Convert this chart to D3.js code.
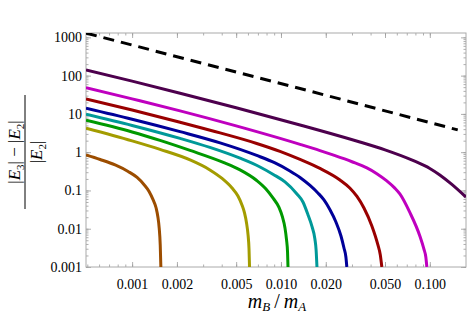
<!DOCTYPE html>
<html>
<head>
<meta charset="utf-8">
<script src="https://cdn.jsdelivr.net/npm/d3@7"></script>
<style>
  body { margin: 0; background: #fff; }
  svg text { font-family: "Liberation Serif", "DejaVu Serif", serif; fill: #000; }
</style>
</head>
<body>
<div id="chart"></div>
<script>
// tick labels
const xTicks = [0.001, 0.002, 0.005, 0.01, 0.02, 0.05, 0.1];
const xTickLabels = ["0.001", "0.002", "0.005", "0.010", "0.020", "0.050", "0.100"];
const yTicks = [0.001, 0.01, 0.1, 1, 10, 100, 1000];
const yTickLabels = ["0.001", "0.01", "0.1", "1", "10", "100", "1000"];

// curves: [m_B/m_A, ratio]
const darkPurple = [[0.00049, 141], [0.001, 72], [0.0021, 34.8], [0.005, 14.5], [0.01343, 5.15], [0.01828, 3.70],
  [0.0339, 1.85], [0.05, 1.15], [0.0769, 0.61], [0.1, 0.376], [0.1167, 0.254], [0.1406, 0.144], [0.175, 0.067]];
const magenta = [[0.00049, 48.7], [0.001, 24.7], [0.0021, 12.0], [0.005, 4.86], [0.01343, 1.60], [0.01828, 1.10],
  [0.02233, 0.848], [0.03, 0.562], [0.03776, 0.387], [0.04406, 0.274], [0.0514, 0.177], [0.0582, 0.115],
  [0.0629, 0.081], [0.0734, 0.0266], [0.0857, 0.00645], [0.0912, 0.00296], [0.094, 0.00182], [0.0955, 0.001]];
const darkRed = [[0.00049, 24.7], [0.001, 12.7], [0.0021, 6.07], [0.0039, 3.19], [0.00687, 1.69], [0.00985, 1.05],
  [0.01343, 0.645], [0.01828, 0.376], [0.0249, 0.188], [0.029, 0.116], [0.0324, 0.0697], [0.0361, 0.0348],
  [0.0408, 0.0118], [0.0448, 0.00376], [0.0465, 0.00206], [0.0476, 0.001]];
const navy = [[0.00049, 14.1], [0.001, 7.27], [0.0021, 3.44], [0.0039, 1.75], [0.00687, 0.822], [0.00912, 0.524],
  [0.01148, 0.324], [0.01343, 0.219], [0.01567, 0.135], [0.0177, 0.0861], [0.01945, 0.0565], [0.0213, 0.0318],
  [0.0234, 0.015], [0.0253, 0.00645], [0.0265, 0.00314], [0.0273, 0.00182], [0.0277, 0.001]];
const teal = [[0.00049, 9.82], [0.001, 5.0], [0.0021, 2.29], [0.00333, 1.33], [0.00531, 0.695], [0.00723, 0.411],
  [0.00888, 0.262], [0.01064, 0.167], [0.0128, 0.081], [0.01405, 0.05], [0.0152, 0.0229], [0.01615, 0.0115],
  [0.0169, 0.0054], [0.01722, 0.00278], [0.01745, 0.001]];
const green = [[0.00049, 6.84], [0.001, 3.38], [0.00154, 2.03], [0.00245, 1.11], [0.0041, 0.54], [0.00531, 0.344],
  [0.00687, 0.182], [0.00793, 0.109], [0.00888, 0.0618], [0.0097, 0.036], [0.01023, 0.0203], [0.01064, 0.0105],
  [0.0109, 0.0051], [0.01107, 0.00247], [0.01115, 0.001]];
const olive = [[0.00049, 4.23], [0.001, 1.97], [0.00154, 1.18], [0.00245, 0.627], [0.00333, 0.344], [0.00402, 0.206],
  [0.00469, 0.116], [0.00514, 0.0718], [0.00547, 0.0418], [0.00569, 0.0258], [0.00587, 0.0141], [0.00601, 0.00687],
  [0.0061, 0.00296], [0.00615, 0.001]];
const brown = [[0.00049, 0.848], [0.00061, 0.645], [0.000769, 0.465], [0.00094, 0.314], [0.00108, 0.219],
  [0.0012, 0.1435], [0.0013, 0.0942], [0.00138, 0.0582], [0.00145, 0.0348], [0.00149, 0.0203], [0.00152, 0.0105],
  [0.001545, 0.00376], [0.00156, 0.001]];
const dashedLine = [[0.00049, 1290], [0.01343, 46], [0.154, 3.82]];

const curves = [
  { data: darkPurple, color: "#4d004d" },
  { data: magenta, color: "#bf00bf" },
  { data: darkRed, color: "#990000" },
  { data: navy, color: "#000099" },
  { data: teal, color: "#009999" },
  { data: green, color: "#009900" },
  { data: olive, color: "#a39c00" },
  { data: brown, color: "#9c4d00" }
];

const W = 469, H = 315;
const margin = { top: 33, right: 3, bottom: 48, left: 86 };
const width = W - margin.left - margin.right;
const height = H - margin.top - margin.bottom;

const svg = d3.select("#chart").append("svg")
  .attr("width", W).attr("height", H);

const x = d3.scaleLog().domain([0.00049, 0.175]).range([0, width]);
const y = d3.scaleLog().domain([0.001, 1300]).range([height, 0]);

const g = svg.append("g").attr("transform", "translate(" + margin.left + "," + margin.top + ")");

g.append("clipPath").attr("id", "plotclip")
  .append("rect").attr("width", width).attr("height", height);

// minor ticks (no labels)
const minorStyle = sel => {
  sel.select(".domain").remove();
  sel.selectAll("line").attr("stroke", "#999").attr("stroke-width", 0.8);
  sel.selectAll("text").remove();
};
g.append("g").attr("transform", "translate(0," + height + ")")
  .call(d3.axisBottom(x).tickValues(x.ticks()).tickSize(-2.5)).call(minorStyle);
g.append("g")
  .call(d3.axisTop(x).tickValues(x.ticks()).tickSize(-2.5)).call(minorStyle);
g.append("g")
  .call(d3.axisLeft(y).tickValues(y.ticks()).tickSize(-2.5)).call(minorStyle);
g.append("g").attr("transform", "translate(" + width + ",0)")
  .call(d3.axisRight(y).tickValues(y.ticks()).tickSize(-2.5)).call(minorStyle);

// major ticks
const majorStyle = sel => {
  sel.select(".domain").remove();
  sel.selectAll("line").attr("stroke", "#999").attr("stroke-width", 0.8);
};
g.append("g").attr("transform", "translate(0," + height + ")")
  .call(d3.axisBottom(x).tickValues(xTicks).tickSize(-5).tickPadding(12)
    .tickFormat((d, i) => xTickLabels[i]))
  .call(majorStyle)
  .call(s => s.selectAll("text").attr("font-size", 14));
g.append("g")
  .call(d3.axisTop(x).tickValues(xTicks).tickSize(-5).tickFormat(""))
  .call(majorStyle);
g.append("g")
  .call(d3.axisLeft(y).tickValues(yTicks).tickSize(-5).tickPadding(4)
    .tickFormat((d, i) => yTickLabels[i]))
  .call(majorStyle)
  .call(s => s.selectAll("text").attr("font-size", 14));
g.append("g").attr("transform", "translate(" + width + ",0)")
  .call(d3.axisRight(y).tickValues(yTicks).tickSize(-5).tickFormat(""))
  .call(majorStyle);

// frame
g.append("rect").attr("width", width).attr("height", height)
  .attr("fill", "none").attr("stroke", "#aaa").attr("stroke-width", 1);

const line = d3.line()
  .x(d => x(d[0]))
  .y(d => y(d[1]))
  .curve(d3.curveMonotoneX);

const plot = g.append("g").attr("clip-path", "url(#plotclip)");

plot.selectAll("path.curve").data(curves).enter().append("path")
  .attr("class", "curve")
  .attr("fill", "none")
  .attr("stroke", d => d.color)
  .attr("stroke-width", 3)
  .attr("d", d => line(d.data));

plot.append("path")
  .datum(dashedLine)
  .attr("fill", "none")
  .attr("stroke", "#000")
  .attr("stroke-width", 3)
  .attr("stroke-dasharray", "11,7")
  .attr("d", d3.line().x(d => x(d[0])).y(d => y(d[1])));

// x axis label
const xl = svg.append("text")
  .attr("x", 277).attr("y", 308)
  .attr("text-anchor", "middle")
  .attr("font-size", 20);
xl.append("tspan").attr("font-style", "italic").text("m");
xl.append("tspan").attr("font-style", "italic").attr("font-size", 13).attr("dy", 3).text("B");
xl.append("tspan").attr("dy", -3).text("\u2009/\u2009");
xl.append("tspan").attr("font-style", "italic").text("m");
xl.append("tspan").attr("font-style", "italic").attr("font-size", 13).attr("dy", 3).text("A");

// y axis label: fraction, rotated
const yLab = svg.append("g").attr("transform", "translate(0,152) rotate(-90)");
const num = yLab.append("text")
  .attr("x", 0).attr("y", 20)
  .attr("text-anchor", "middle")
  .attr("font-size", 17);
num.append("tspan").text("|");
num.append("tspan").attr("font-style", "italic").text("E");
num.append("tspan").attr("font-size", 11).attr("dy", 4).text("3");
num.append("tspan").attr("dy", -4).text("| \u2212 |");
num.append("tspan").attr("font-style", "italic").text("E");
num.append("tspan").attr("font-size", 11).attr("dy", 4).text("2");
num.append("tspan").attr("dy", -4).text("|");

yLab.append("line")
  .attr("x1", -57).attr("x2", 57)
  .attr("y1", 25).attr("y2", 25)
  .attr("stroke", "#000").attr("stroke-width", 1);

const den = yLab.append("text")
  .attr("x", 0).attr("y", 42)
  .attr("text-anchor", "middle")
  .attr("font-size", 17);
den.append("tspan").text("|");
den.append("tspan").attr("font-style", "italic").text("E");
den.append("tspan").attr("font-size", 11).attr("dy", 4).text("2");
den.append("tspan").attr("dy", -4).text("|");
</script>
</body>
</html>
